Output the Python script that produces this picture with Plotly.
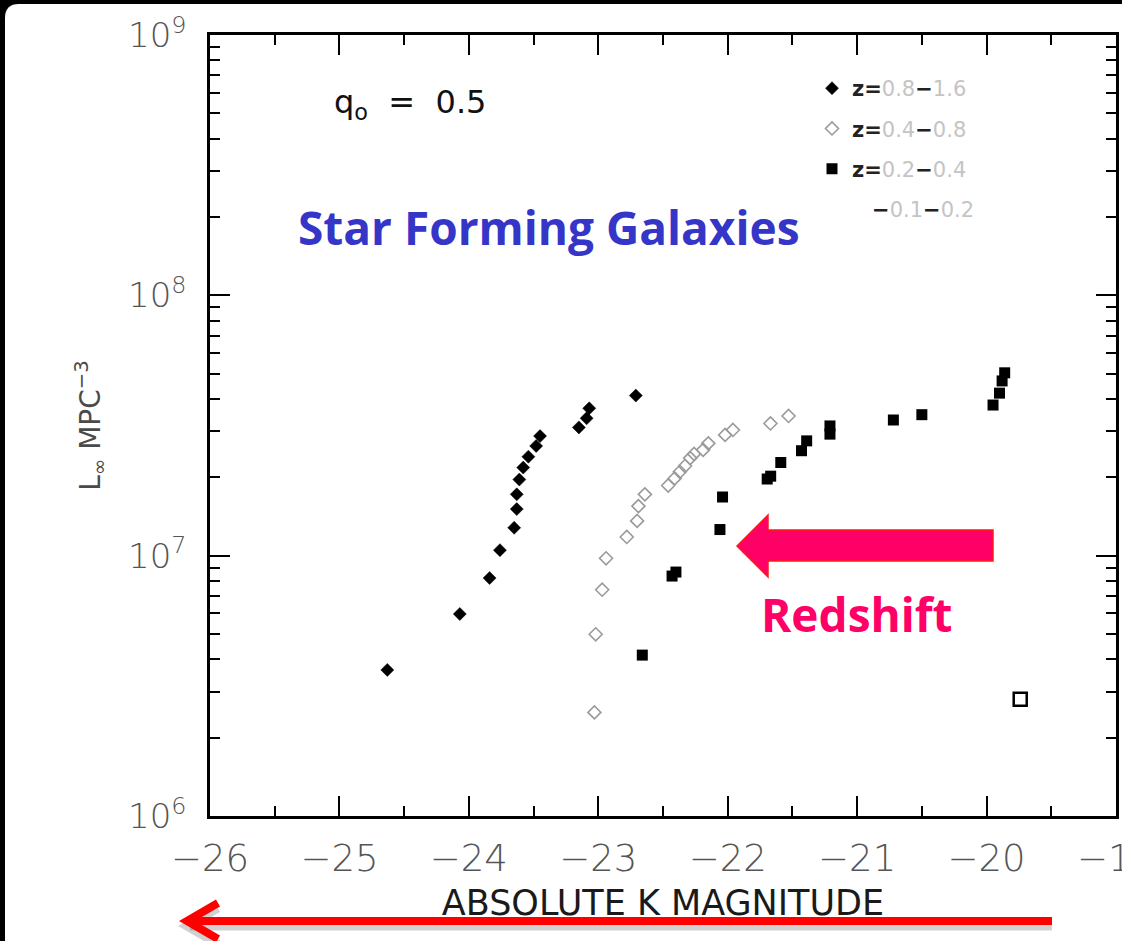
import plotly.graph_objects as go

# Absolute K magnitude and luminosity density for each redshift bin
k_mag_z08_16 = [-24.63, -24.07, -23.84, -23.76, -23.65, -23.63, -23.63, -23.61,
                -23.58, -23.54, -23.48, -23.45, -23.15, -23.09, -23.07, -22.71]
lum_z08_16 = [3.64e6, 5.97e6, 8.20e6, 1.05e7, 1.28e7, 1.51e7, 1.72e7, 1.96e7,
              2.18e7, 2.40e7, 2.64e7, 2.88e7, 3.11e7, 3.37e7, 3.68e7, 4.12e7]

k_mag_z04_08 = [-23.03, -23.02, -22.97, -22.94, -22.78, -22.70, -22.69, -22.64,
                -22.46, -22.41, -22.37, -22.33, -22.29, -22.26, -22.19, -22.15,
                -22.02, -21.96, -21.67, -21.53]
lum_z04_08 = [2.50e6, 4.99e6, 7.40e6, 9.77e6, 1.18e7, 1.36e7, 1.55e7, 1.72e7,
              1.86e7, 1.98e7, 2.10e7, 2.21e7, 2.37e7, 2.46e7, 2.55e7, 2.70e7,
              2.91e7, 3.04e7, 3.22e7, 3.44e7]

k_mag_z02_04 = [-22.66, -22.43, -22.40, -22.06, -22.04, -21.695, -21.668, -21.59,
                -21.43, -21.39, -21.21, -21.21, -20.72, -20.50, -19.95, -19.90,
                -19.88, -19.86]
lum_z02_04 = [4.15e6, 8.35e6, 8.65e6, 1.26e7, 1.68e7, 1.97e7, 2.02e7, 2.28e7,
              2.53e7, 2.76e7, 2.93e7, 3.15e7, 3.32e7, 3.48e7, 3.79e7, 4.21e7,
              4.69e7, 5.04e7]

k_mag_z01_02 = [-19.74]
lum_z01_02 = [2.81e6]

x_ticks = [-26, -25, -24, -23, -22, -21, -20, -19]
y_decades = [6, 7, 8, 9]

# figure geometry (pixels)
FIG_W, FIG_H = 1122, 941
M_L, M_R, M_T, M_B = 210, 6, 35, 125
PLOT_W = FIG_W - M_L - M_R
PLOT_H = FIG_H - M_T - M_B


def px(x):
    return (x - M_L) / PLOT_W


def py(y):
    return (FIG_H - M_B - y) / PLOT_H


def path(points, close=True):
    s = "M " + " L ".join(f"{px(a):.5f},{py(b):.5f}" for a, b in points)
    return s + (" Z" if close else "")


GRAY = "#c4c4c4"


def lg(label):
    return f"<span style='color:{GRAY}'>{label}</span>"


def zname(lo, hi):
    return f"<b>z=</b>{lg(lo)}<b>−</b>{lg(hi)}"


fig = go.Figure()

fig.add_trace(go.Scatter(
    x=k_mag_z08_16, y=lum_z08_16, mode="markers", name=zname("0.8", "1.6"),
    legendgroup="a",
    marker=dict(symbol="diamond", size=10, color="black",
                line=dict(width=0.5, color="black"))))
fig.add_trace(go.Scatter(
    x=k_mag_z04_08, y=lum_z04_08, mode="markers", name=zname("0.4", "0.8"),
    legendgroup="b",
    marker=dict(symbol="diamond-open", size=10, color="#9a9a9a",
                line=dict(width=1.6, color="#9a9a9a"))))
fig.add_trace(go.Scatter(
    x=k_mag_z02_04, y=lum_z02_04, mode="markers", name=zname("0.2", "0.4"),
    legendgroup="c",
    marker=dict(symbol="square", size=11, color="black")))
fig.add_trace(go.Scatter(
    x=k_mag_z01_02, y=lum_z01_02, mode="markers", showlegend=False,
    marker=dict(symbol="square-open", size=13, color="black",
                line=dict(width=2.5, color="black"))))
# legend row for the lowest bin (its marker is drawn as the leading dash)
fig.add_trace(go.Scatter(
    x=[None], y=[None], mode="markers", legendgroup="d",
    name="\u00a0\u00a0\u00a0<b>−</b>" + lg("0.1") + "<b>−</b>" + lg("0.2"),
    marker=dict(size=1, color="rgba(0,0,0,0)")))

minor_y = [m * 10 ** d for d in y_decades[:-1] for m in range(2, 10)]

x_tick_font = dict(family="DejaVu Sans", size=37, color="#555", weight=200)
y_tick_font = dict(family="DejaVu Sans", size=34, color="#555", weight=200)

fig.update_layout(
    width=FIG_W, height=FIG_H,
    margin=dict(l=M_L, r=M_R, t=M_T, b=M_B, autoexpand=False),
    paper_bgcolor="black",
    plot_bgcolor="white",
    showlegend=True,
    legend=dict(x=px(812), y=py(68), xanchor="left", yanchor="top",
                bgcolor="rgba(0,0,0,0)", tracegroupgap=10,
                font=dict(family="DejaVu Sans", size=21, color="#222")),
    xaxis=dict(
        range=[-26, -19], tickvals=x_ticks, ticktext=[f"−{abs(v)}" for v in x_ticks],
        ticks="inside", ticklen=20, tickwidth=2, tickcolor="black",
        showline=True, linewidth=2.5, linecolor="black", mirror="ticks",
        showgrid=False, zeroline=False, tickfont=x_tick_font, ticklabelstandoff=8,
        ticklabeloverflow="allow",
        minor=dict(dtick=0.5, tick0=-26, ticks="inside", ticklen=10,
                   tickwidth=2, tickcolor="black", showgrid=False),
        title=dict(text="ABSOLUTE K MAGNITUDE", standoff=12,
                   font=dict(family="DejaVu Sans", size=35, color="#1a1a1a")),
    ),
    yaxis=dict(
        type="log", range=[6, 9],
        tickvals=[10 ** d for d in y_decades],
        ticktext=[f"10<sup>{d}</sup>" for d in y_decades],
        ticks="inside", ticklen=20, tickwidth=2, tickcolor="black",
        showline=True, linewidth=2.5, linecolor="black", mirror="ticks",
        showgrid=False, zeroline=False, tickfont=y_tick_font, ticklabelstandoff=14,
        ticklabeloverflow="allow",
        minor=dict(tickvals=minor_y, ticks="inside", ticklen=10,
                   tickwidth=2, tickcolor="black", showgrid=False),
        title=dict(text="L<sub>∞</sub> MPC<sup>−3</sup>", standoff=20,
                   font=dict(family="DejaVu Sans", size=28, color="#4a4a4a")),
    ),
)

# white page behind the chart, rounded at the corners
r = 14
x0, y0, x1, y1 = 5, 4, FIG_W + 30, FIG_H + 30
page = (f"M {px(x0):.5f},{py(y0 + r):.5f} Q {px(x0):.5f},{py(y0):.5f} {px(x0 + r):.5f},{py(y0):.5f} "
        f"L {px(x1):.5f},{py(y0):.5f} L {px(x1):.5f},{py(y1):.5f} L {px(x0):.5f},{py(y1):.5f} Z")
fig.add_shape(type="path", path=page, xref="paper", yref="paper",
              fillcolor="white", line=dict(width=0), layer="below")

# pink arrow marking the shift with redshift
arrow = [(737, 546), (768, 515), (768, 530), (993, 530), (993, 561),
         (768, 561), (768, 577)]
fig.add_shape(type="path", path=path(arrow), xref="paper", yref="paper",
              fillcolor="#ff0066", line=dict(width=1.5, color="#ff1a1a"),
              layer="above")

# red arrow under the x axis, with a soft shadow
for dy, col, w in [(5, "rgba(0,0,0,0.18)", 9), (0, "#ff0000", 8)]:
    fig.add_shape(type="line", xref="paper", yref="paper",
                  x0=px(1052), y0=py(921 + dy), x1=px(190), y1=py(921 + dy),
                  line=dict(color=col, width=w), layer="above")
    fig.add_shape(type="path", xref="paper", yref="paper",
                  path=path([(218, 903 + dy), (187, 921 + dy), (218, 939 + dy)], close=False),
                  line=dict(color=col, width=w), layer="above")


def label(xc, yc, text, font):
    fig.add_annotation(x=px(xc), y=py(yc), xref="paper", yref="paper",
                       xanchor="center", yanchor="middle", text=text,
                       showarrow=False, font=font)


label(410, 104, "q<sub>o</sub>\u00a0\u00a0=\u00a0\u00a00.5",
      dict(family="DejaVu Sans", size=32, color="#111"))
label(549, 227, "<b>Star Forming Galaxies</b>",
      dict(family="Open Sans", size=46, color="#3535c8"))
label(857, 614, "<b>Redshift</b>",
      dict(family="Open Sans", size=46, color="#ff0066"))

fig.write_html("out.html")
